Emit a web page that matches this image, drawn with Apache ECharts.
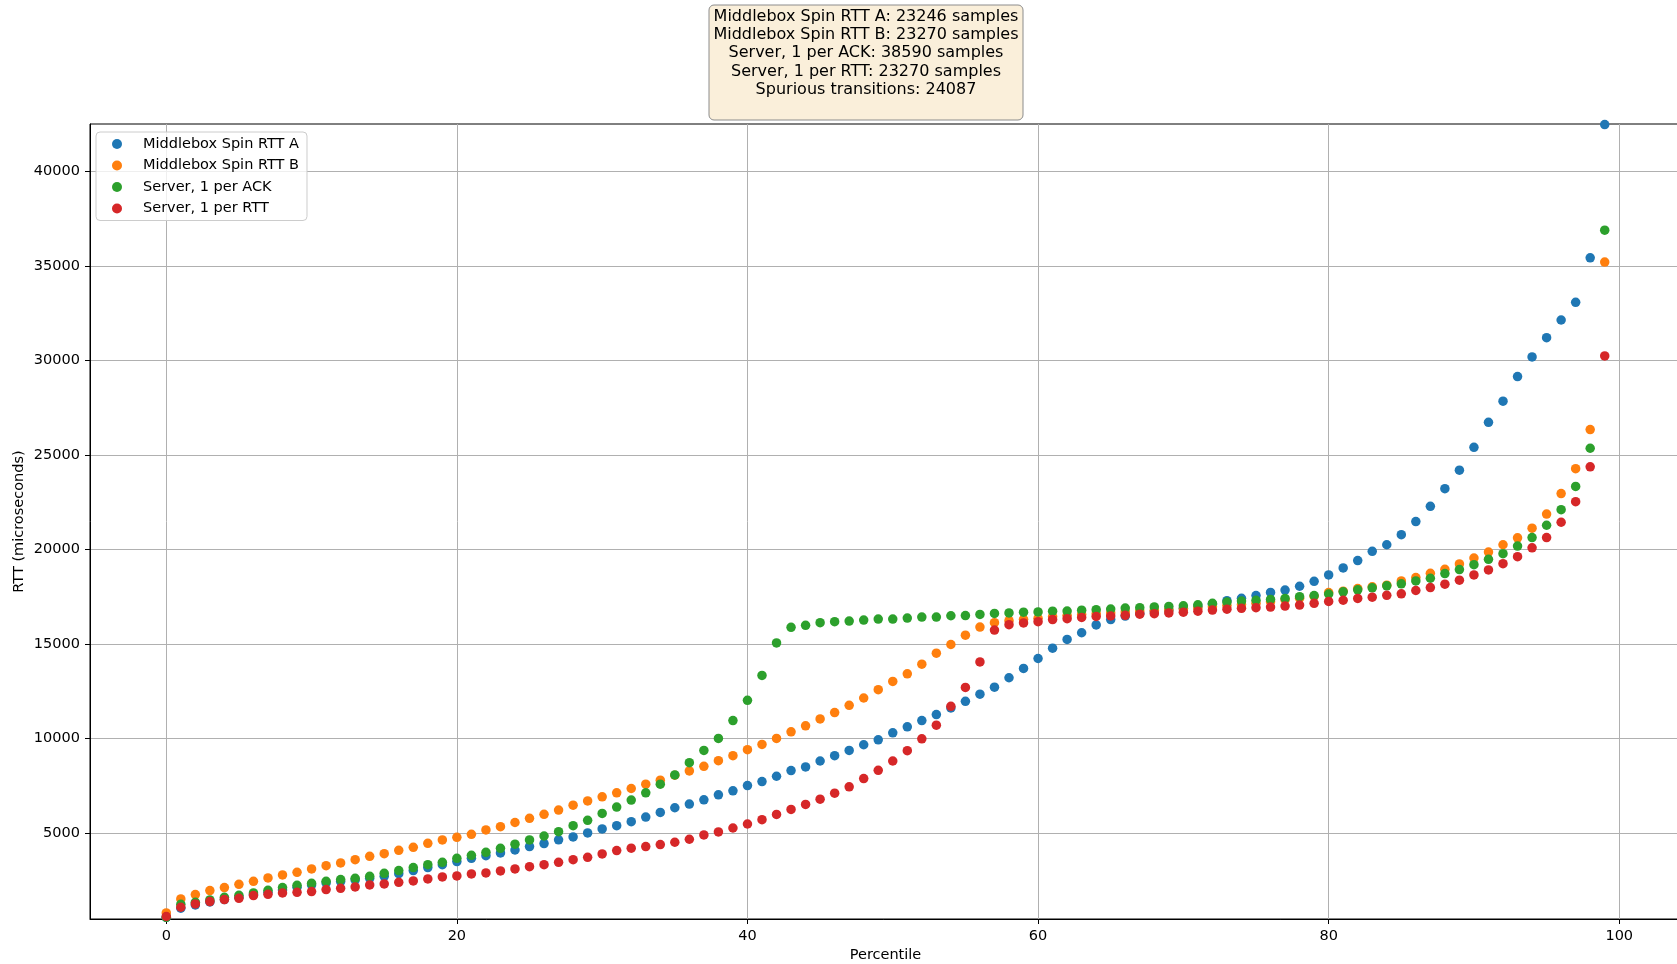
<!DOCTYPE html>
<html>
<head>
<meta charset="utf-8">
<title>RTT percentiles</title>
<script src="https://cdn.jsdelivr.net/npm/echarts@6/dist/echarts.min.js"></script>
<style>
  html, body { margin: 0; padding: 0; background: #fff; }
  #chart { width: 1677px; height: 964px; }
</style>
</head>
<body>
<div id="chart"></div>
<script>
// Percentile positions 0..99
const percentiles = Array.from({ length: 100 }, (_, i) => i);

const seriesNames = ['Middlebox Spin RTT A', 'Middlebox Spin RTT B', 'Server, 1 per ACK', 'Server, 1 per RTT'];
const sampleCounts = [23246, 23270, 38590, 23270];
const spuriousTransitions = 24087;

const xTicks = [0, 20, 40, 60, 80, 100];
const yTicks = [5000, 10000, 15000, 20000, 25000, 30000, 35000, 40000];

// RTT (microseconds) at each percentile
const spinA = [
  540, 1018, 1194, 1353, 1476, 1599, 1740, 1864, 1987, 2128,
  2251, 2357, 2427, 2516, 2604, 2709, 2850, 3009, 3168, 3326,
  3485, 3661, 3802, 3943, 4100, 4280, 4440, 4640, 4790, 5000,
  5212, 5387, 5598, 5843, 6089, 6334, 6527, 6755, 7018, 7229,
  7509, 7720, 8000, 8299, 8492, 8807, 9088, 9369, 9667, 9930,
  10298, 10614, 10947, 11263, 11614, 11964, 12340, 12710, 13211, 13702,
  14228, 14772, 15240, 15590, 16005, 16290, 16470, 16620, 16700, 16780,
  16880, 16980, 17100, 17285, 17410, 17558, 17725, 17850, 18050, 18310,
  18648, 19020, 19410, 19900, 20245, 20780, 21473, 22280, 23210, 24192,
  25400, 26720, 27840, 29141, 30179, 31200, 32133, 33066, 35424, 42470
];
const spinB = [
  770, 1511, 1740, 1952, 2110, 2286, 2445, 2621, 2780, 2921,
  3097, 3273, 3414, 3590, 3767, 3907, 4084, 4242, 4454, 4630,
  4771, 4930, 5159, 5335, 5555, 5775, 5985, 6213, 6468, 6697,
  6913, 7123, 7352, 7579, 7790, 8053, 8281, 8527, 8825, 9088,
  9404, 9684, 10000, 10351, 10667, 11035, 11368, 11754, 12140, 12578,
  13017, 13420, 13929, 14508, 14970, 15465, 15890, 16125, 16231, 16304,
  16357, 16450, 16500, 16560, 16600, 16640, 16690, 16740, 16780, 16810,
  16850, 16900, 16970, 17030, 17090, 17150, 17230, 17330, 17420, 17520,
  17720, 17790, 17930, 18018, 18106, 18334, 18509, 18737, 18948, 19228,
  19544, 19860, 20246, 20614, 21120, 21870, 22955, 24270, 26340, 35195
];
const serverPerAck = [
  540, 1229, 1335, 1458, 1599, 1705, 1828, 1969, 2110, 2234,
  2339, 2445, 2533, 2604, 2709, 2868, 3009, 3168, 3326, 3450,
  3661, 3819, 3978, 4189, 4410, 4630, 4840, 5070, 5388, 5670,
  6036, 6369, 6738, 7123, 7580, 8071, 8720, 9369, 10000, 10947,
  12017, 13333, 15052, 15876, 15981, 16121, 16174, 16209, 16262, 16314,
  16314, 16367, 16420, 16420, 16490, 16500, 16560, 16610, 16640, 16680,
  16690, 16730, 16740, 16785, 16810, 16845, 16898, 16915, 16955, 16985,
  17013, 17066, 17145, 17215, 17268, 17310, 17355, 17408, 17500, 17560,
  17640, 17755, 17860, 17965, 18071, 18176, 18334, 18474, 18720, 18930,
  19193, 19474, 19772, 20175, 20627, 21277, 22100, 23330, 25350, 36885
];
const serverPerRtt = [
  583, 1071, 1247, 1370, 1476, 1546, 1687, 1758, 1828, 1864,
  1899, 2005, 2075, 2146, 2251, 2304, 2392, 2463, 2568, 2674,
  2727, 2833, 2886, 2991, 3097, 3220, 3326, 3450, 3590, 3714,
  3890, 4071, 4194, 4282, 4387, 4510, 4668, 4896, 5054, 5264,
  5475, 5703, 5983, 6246, 6510, 6790, 7106, 7439, 7878, 8316,
  8807, 9351, 9982, 10702, 11701, 12700, 14050, 15730, 16016, 16110,
  16178, 16290, 16336, 16397, 16450, 16476, 16510, 16573, 16600, 16640,
  16678, 16730, 16790, 16837, 16880, 16915, 16950, 17004, 17057, 17145,
  17250, 17310, 17404, 17474, 17570, 17650, 17825, 17983, 18158, 18369,
  18649, 18912, 19246, 19614, 20080, 20627, 21435, 22525, 24370, 30232
];

const seriesValues = [spinA, spinB, serverPerAck, serverPerRtt];
const colors = ['#1f77b4', '#ff7f0e', '#2ca02c', '#d62728'];

const FONT = "'DejaVu Sans', 'Liberation Sans', sans-serif";
const FS = 14.5;

const summaryText = seriesNames
  .map((n, i) => n + ': ' + sampleCounts[i] + ' samples')
  .concat(['Spurious transitions: ' + spuriousTransitions, ''])
  .join('\n');

const chart = echarts.init(document.getElementById('chart'), null, { renderer: 'canvas' });

chart.setOption({
  animation: false,
  backgroundColor: '#ffffff',
  textStyle: { fontFamily: FONT },
  grid: {
    left: 90, top: 124, bottom: 45, right: -4,
    outerBoundsMode: 'none',
    containLabel: false,
    show: true, borderColor: '#000', borderWidth: 1, backgroundColor: 'transparent'
  },
  xAxis: {
    type: 'value',
    min: -5.25, max: 104.25,
    splitNumber: 5,
    name: 'Percentile',
    nameLocation: 'middle',
    nameGap: 29,
    nameMoveOverlap: false,
    nameTextStyle: { fontFamily: FONT, fontSize: FS, color: '#000' },
    axisLine: { show: true, onZero: false, lineStyle: { color: '#000', width: 1 } },
    axisTick: { show: true, length: 5, lineStyle: { color: '#000' }, customValues: xTicks },
    axisLabel: {
      fontFamily: FONT, fontSize: FS, color: '#000', margin: 10,
      customValues: xTicks,
      formatter: v => (xTicks.includes(v) ? String(v) : '')
    },
    splitLine: { show: true, lineStyle: { color: '#b0b0b0', width: 1 } }
  },
  yAxis: {
    type: 'value',
    min: 450, max: 42500,
    splitNumber: 8,
    name: 'RTT (microseconds)',
    nameLocation: 'middle',
    nameRotate: 90,
    nameGap: 63,
    nameMoveOverlap: false,
    nameTextStyle: { fontFamily: FONT, fontSize: FS, color: '#000' },
    axisLine: { show: true, onZero: false, lineStyle: { color: '#000', width: 1 } },
    axisTick: { show: true, length: 5, lineStyle: { color: '#000' }, customValues: yTicks },
    axisLabel: {
      fontFamily: FONT, fontSize: FS, color: '#000', margin: 10,
      customValues: yTicks,
      formatter: v => (yTicks.includes(v) ? String(v) : '')
    },
    splitLine: { show: true, lineStyle: { color: '#b0b0b0', width: 1 } }
  },
  legend: {
    orient: 'vertical',
    left: 96, top: 132,
    padding: [4, 8, 4, 16],
    itemWidth: 10, itemHeight: 10,
    itemGap: 5.5,
    icon: 'circle',
    backgroundColor: 'rgba(255,255,255,0.8)',
    borderColor: '#cccccc', borderWidth: 1, borderRadius: 4,
    textStyle: { fontFamily: FONT, fontSize: FS, color: '#000', lineHeight: 16, padding: [0, 0, 0, 16] },
    data: seriesNames
  },
  graphic: [
    {
      type: 'rect',
      shape: { x: 709, y: 5, width: 314, height: 115, r: 5 },
      style: { fill: '#faefda', stroke: '#8c8c8c', lineWidth: 1 },
      z: 100
    },
    {
      type: 'text',
      x: 866, y: 8,
      style: {
        text: summaryText,
        fontFamily: FONT, fontSize: 16, lineHeight: 18.1,
        fill: '#000', align: 'center', verticalAlign: 'top'
      },
      z: 101
    }
  ],
  series: seriesNames.map((name, s) => ({
    name,
    type: 'scatter',
    symbol: 'circle',
    symbolSize: 9.5,
    itemStyle: { color: colors[s], opacity: 1 },
    emphasis: { disabled: true },
    data: percentiles.map((p, i) => [p, seriesValues[s][i]]),
    z: 2 + s
  }))
});
</script>
</body>
</html>
